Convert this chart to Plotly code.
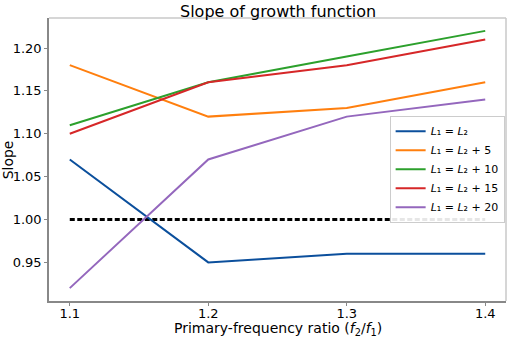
import plotly.graph_objects as go

ratios = [1.1, 1.2, 1.3, 1.4]
series_names = ["<i>L</i>₁ = <i>L</i>₂",
                "<i>L</i>₁ = <i>L</i>₂ + 5",
                "<i>L</i>₁ = <i>L</i>₂ + 10",
                "<i>L</i>₁ = <i>L</i>₂ + 15",
                "<i>L</i>₁ = <i>L</i>₂ + 20"]
s0 = [1.07, 0.95, 0.96, 0.96]
s5 = [1.18, 1.12, 1.13, 1.16]
s10 = [1.11, 1.16, 1.19, 1.22]
s15 = [1.10, 1.16, 1.18, 1.21]
s20 = [0.92, 1.07, 1.12, 1.14]
reference = [1.0, 1.0, 1.0, 1.0]
y_ticks = [0.95, 1.00, 1.05, 1.10, 1.15, 1.20]
x_ticks = [1.1, 1.2, 1.3, 1.4]

colors = ["#0b4f9c", "#ff7f0e", "#2ca02c", "#d62728", "#9467bd"]
font = "DejaVu Sans, Arial, sans-serif"

fig = go.Figure()
fig.add_trace(go.Scatter(x=ratios, y=reference, mode="lines",
                         line=dict(color="black", width=3, dash="5px,2.5px"),
                         showlegend=False, hoverinfo="skip"))
for name, vals, c in zip(series_names, [s0, s5, s10, s15, s20], colors):
    fig.add_trace(go.Scatter(x=ratios, y=vals, mode="lines", name=name,
                             line=dict(color=c, width=2)))

fig.update_layout(
    width=510, height=337,
    margin=dict(l=49, r=4, t=18, b=36, autoexpand=False),
    paper_bgcolor="white", plot_bgcolor="white",
    font=dict(family=font, size=13, color="black"),
    legend=dict(x=0.997, y=0.655, xanchor="right", yanchor="top",
                bgcolor="rgba(255,255,255,0.9)", bordercolor="#cccccc",
                borderwidth=1, font=dict(size=11, family=font),
                tracegroupgap=0, itemwidth=30),
    xaxis=dict(range=[1.085, 1.415], tickvals=x_ticks,
               ticktext=["1.1", "1.2", "1.3", "1.4"],
               showgrid=False, zeroline=False, automargin=False,
               showline=True, linecolor="#888888", linewidth=1.5,
               ticks="outside", ticklen=3, tickcolor="#888888",
               ticklabelstandoff=-3),
    yaxis=dict(range=[0.905, 1.235], tickvals=y_ticks,
               ticktext=["0.95", "1.00", "1.05", "1.10", "1.15", "1.20"],
               showgrid=False, zeroline=False, automargin=False,
               showline=True, linecolor="#888888", linewidth=1.5,
               ticks="outside", ticklen=3, tickcolor="#888888"),
)
fig.add_annotation(text="Slope of growth function", xref="paper", yref="paper",
                   x=0.5, y=1, xanchor="center", yanchor="top", yshift=18,
                   showarrow=False, font=dict(size=16, family=font))
fig.add_annotation(text="Primary-frequency ratio (<i>f</i><sub>2</sub>/<i>f</i><sub>1</sub>)",
                   xref="paper", yref="paper", x=0.5, y=-0.06, xanchor="center",
                   yanchor="top", showarrow=False, font=dict(size=14, family=font))
fig.add_annotation(text="Slope", xref="paper", yref="paper", x=-0.09, y=0.5,
                   xanchor="center", yanchor="middle", textangle=-90,
                   showarrow=False, font=dict(size=14, family=font))
fig.add_shape(type="line", xref="paper", yref="paper", x0=0, x1=1, y0=1, y1=1,
              line=dict(color="#c8c8c8", width=1.5))
fig.add_shape(type="line", xref="paper", yref="paper", x0=1, x1=1, y0=0, y1=1,
              line=dict(color="#c8c8c8", width=1.5))

fig.write_html("out.html", config={"displayModeBar": False},
               post_script="document.body.style.margin='0';document.body.style.overflow='hidden';")
